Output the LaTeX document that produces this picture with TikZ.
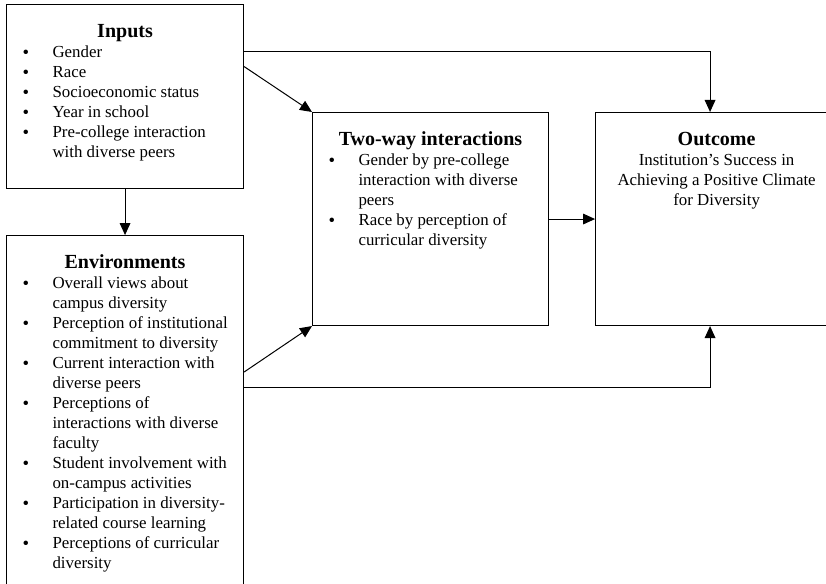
\documentclass[tikz,border=0pt]{standalone}
\usepackage{fontspec}
\setmainfont{Liberation Serif}
\usepackage{tikz}
\usetikzlibrary{arrows.meta,positioning}

\newcommand{\boxhead}[1]{{\centering\rule{0pt}{24.5pt}{\fontsize{15}{15}\selectfont\bfseries #1}\par}}
\newcommand{\bitem}[1]{\par\hangindent=34.5pt\hangafter=0\noindent
    \llap{\makebox[22.5pt][l]{\raisebox{-0.8pt}{\fontsize{14}{15}\selectfont\textbullet}}}{\let\\\newline #1}\par}
\newcommand{\boxtext}[3]{\parbox[c][#2][t]{#1}{\fontsize{12.65}{15}\selectfont\raggedright #3}}

\begin{document}
\begin{tikzpicture}[node distance=34.5pt]
    % Define styles
    \tikzstyle{block} = [rectangle, draw, line width=0.8pt, inner sep=0pt]
    \tikzstyle{flow} = [line width=0.75pt, -{Triangle[length=9pt,width=8pt]}]

    \useasboundingbox (0,0) rectangle (619.5pt,-438pt);

    % Boxes
    \node [block, anchor=north west] (inputs) at (4.5pt,-3pt) {\boxtext{177.75pt}{138pt}{%
        \boxhead{Inputs}
        \bitem{Gender}
        \bitem{Race}
        \bitem{Socioeconomic status}
        \bitem{Year in school}
        \bitem{Pre-college interaction\\with diverse peers}}};
    \node [block, below=of inputs] (env) {\boxtext{177.75pt}{274.5pt}{%
        \boxhead{Environments}
        \bitem{Overall views about\\campus diversity}
        \bitem{Perception of institutional\\commitment to diversity}
        \bitem{Current interaction with\\diverse peers}
        \bitem{Perceptions of\\interactions with diverse\\faculty}
        \bitem{Student involvement with\\on-campus activities}
        \bitem{Participation in diversity-\\related course learning}
        \bitem{Perceptions of curricular\\diversity}}};
    \node [block, anchor=north west] (twoway) at (234pt,-84pt) {\boxtext{177pt}{159.75pt}{%
        \boxhead{Two-way interactions}
        \bitem{Gender by pre-college\\interaction with diverse\\peers}
        \bitem{Race by perception of\\curricular diversity}}};
    \node [block, right=of twoway] (outcome) {\boxtext{181.5pt}{159.75pt}{%
        \boxhead{Outcome}
        {\centering Institution's Success in\\Achieving a Positive Climate\\for Diversity\par}}};

    % Arrows
    \draw [flow] (inputs) -- (env);
    \draw [flow] ([yshift=22.5pt]inputs.east) -- (twoway.north west);
    \draw [flow] ([yshift=33.75pt]inputs.east) -| ([xshift=-4.9pt]outcome.north);
    \draw [flow] ([yshift=-102.75pt]env.north east) -- (twoway.south west);
    \draw [flow] ([yshift=-114pt]env.north east) -| ([xshift=-4.9pt]outcome.south);
    \draw [flow] (twoway) -- (outcome);
\end{tikzpicture}
\end{document}
